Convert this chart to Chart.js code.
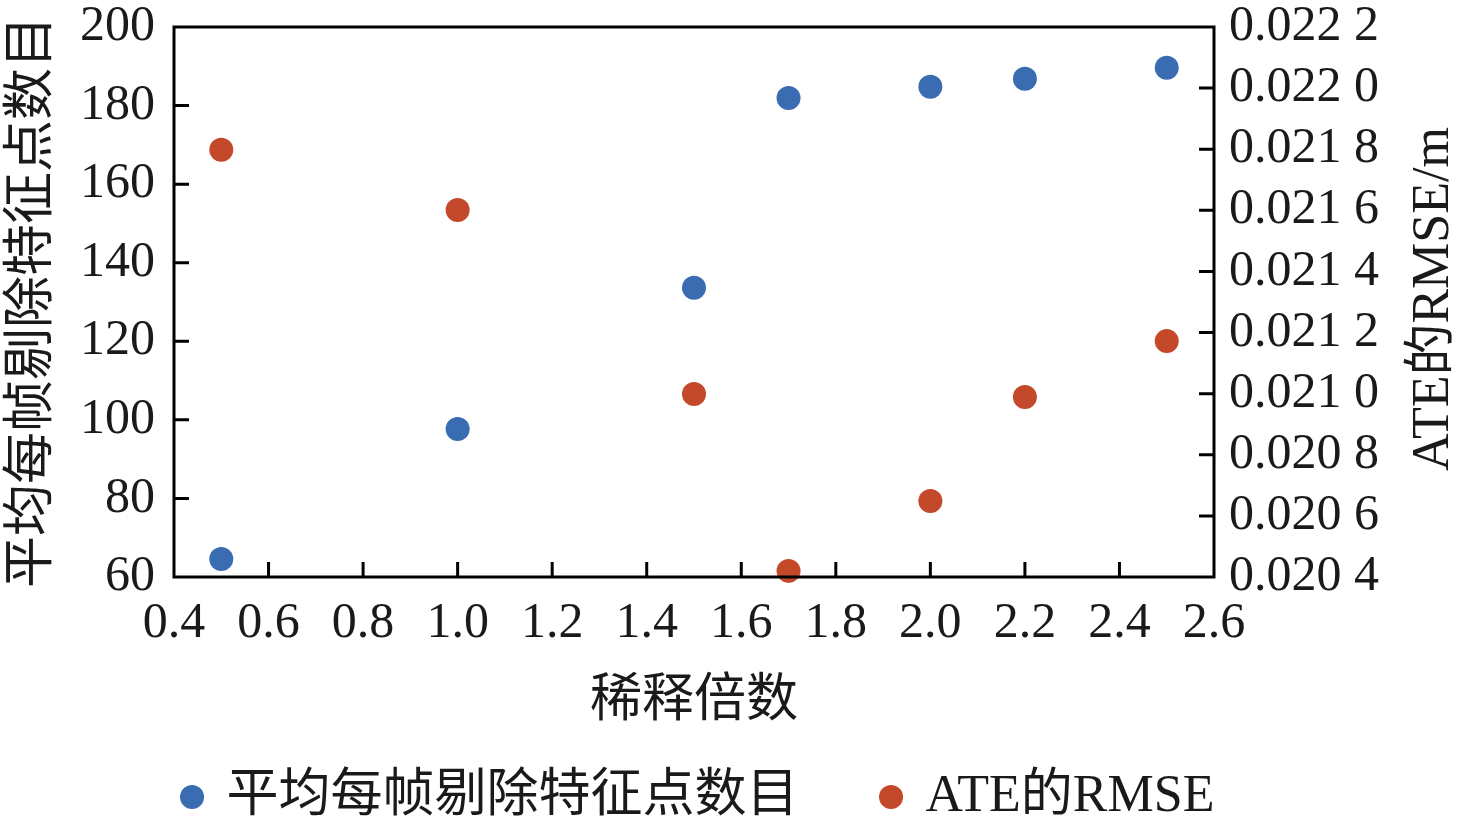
<!DOCTYPE html>
<html>
<head>
<meta charset="utf-8">
<script src="https://cdn.jsdelivr.net/npm/chart.js@4.4.1/dist/chart.umd.min.js"></script>
<style>
html,body{margin:0;padding:0;background:#fff;}
#wrap{width:1476px;height:823px;}
</style>
</head>
<body>
<div id="wrap"><canvas id="c" width="1476" height="823"></canvas></div>
<script>
const dilution = [0.5, 1.0, 1.5, 1.7, 2.0, 2.2, 2.5];
const removedPoints = [64.6, 97.7, 133.6, 181.9, 184.8, 186.8, 189.6];
const ateRmse = [0.021798, 0.021601, 0.020999, 0.020420, 0.020649, 0.020989, 0.021172];
const seriesNames = ['平均每帧剔除特征点数目', 'ATE的RMSE'];
const xTitle = '稀释倍数';
const yLeftTitle = '平均每帧剔除特征点数目';
const yRightTitle = 'ATE的RMSE/m';

const FONT = '"Liberation Serif", "Times New Roman", "Noto Sans CJK SC", serif';
const BLUE = '#3a6cb2';
const ORANGE = '#c4482a';
const INK = '#1a1a1a';

const framePlugin = {
  id: 'frame',
  afterDatasetsDraw(chart) {
    const {ctx, chartArea: a, scales} = chart;
    ctx.save();
    ctx.strokeStyle = '#000';
    ctx.lineWidth = 3;
    ctx.strokeRect(a.left, a.top, a.right - a.left, a.bottom - a.top);
    const L = 15;
    ctx.beginPath();
    scales.x.ticks.forEach(t => {
      const px = scales.x.getPixelForValue(t.value);
      if (px > a.left + 2 && px < a.right - 2) { ctx.moveTo(px, a.bottom); ctx.lineTo(px, a.bottom - L); }
    });
    scales.y.ticks.forEach(t => {
      const py = scales.y.getPixelForValue(t.value);
      if (py > a.top + 2 && py < a.bottom - 2) { ctx.moveTo(a.left, py); ctx.lineTo(a.left + L, py); }
    });
    scales.y1.ticks.forEach(t => {
      const py = scales.y1.getPixelForValue(t.value);
      if (py > a.top + 2 && py < a.bottom - 2) { ctx.moveTo(a.right, py); ctx.lineTo(a.right - L, py); }
    });
    ctx.stroke();
    // right axis title, reading bottom-to-top
    ctx.translate(1434, (a.top + a.bottom) / 2 - 3);
    ctx.rotate(-Math.PI / 2);
    ctx.fillStyle = INK;
    ctx.font = '52px ' + FONT;
    ctx.textAlign = 'center';
    ctx.textBaseline = 'middle';
    ctx.fillText(yRightTitle, 0, 0);
    ctx.restore();
  }
};

new Chart(document.getElementById('c'), {
  type: 'scatter',
  data: {
    datasets: [
      {
        label: seriesNames[0],
        data: dilution.map((x, i) => ({x, y: removedPoints[i]})),
        yAxisID: 'y',
        backgroundColor: BLUE, borderColor: BLUE,
        pointRadius: 12, pointBorderWidth: 0, clip: false
      },
      {
        label: seriesNames[1],
        data: dilution.map((x, i) => ({x, y: ateRmse[i]})),
        yAxisID: 'y1',
        backgroundColor: ORANGE, borderColor: ORANGE,
        pointRadius: 12, pointBorderWidth: 0, clip: false
      }
    ]
  },
  options: {
    responsive: false,
    animation: false,
    layout: { padding: { top: 27, right: 0, left: -78, bottom: -10 } },
    plugins: {
      tooltip: { enabled: false },
      legend: {
        position: 'bottom',
        labels: {
          usePointStyle: true, pointStyle: 'circle',
          boxWidth: 17, boxHeight: 17,
          padding: 84,
          color: INK,
          font: { family: FONT, size: 52 }
        }
      }
    },
    scales: {
      x: {
        type: 'linear', min: 0.4, max: 2.6,
        grid: { display: false, drawTicks: false },
        border: { display: false },
        ticks: {
          stepSize: 0.2, padding: 22, color: INK,
          font: { family: FONT, size: 50, lineHeight: 1 },
          callback: v => Number(v).toFixed(1)
        },
        title: {
          display: true, text: xTitle, color: INK,
          font: { family: FONT, size: 52, lineHeight: 1.2 },
          padding: { top: 0, bottom: -47 }
        },
        afterFit(s) { s.height = 110; }
      },
      y: {
        position: 'left', min: 60, max: 200,
        grid: { display: false, drawTicks: false },
        border: { display: false },
        ticks: {
          stepSize: 20, padding: 19, color: INK,
          font: { family: FONT, size: 50, lineHeight: 0.2 }
        },
        title: {
          display: true, text: yLeftTitle, color: INK,
          font: { family: FONT, size: 52, lineHeight: 1.2 },
          padding: { top: 80, bottom: 0 }
        },
        afterFit(s) { s.width = 252; }
      },
      y1: {
        position: 'right', min: 0.0204, max: 0.0222,
        grid: { display: false, drawTicks: false },
        border: { display: false },
        ticks: {
          stepSize: 0.0002, padding: 15, color: INK,
          font: { family: FONT, size: 50, lineHeight: 0.2 },
          callback: v => { const s = Number(v).toFixed(4); return s.slice(0, 5) + ' ' + s.slice(5); }
        },
        afterFit(s) { s.width = 262; }
      }
    }
  },
  plugins: [framePlugin]
});
</script>
</body>
</html>
